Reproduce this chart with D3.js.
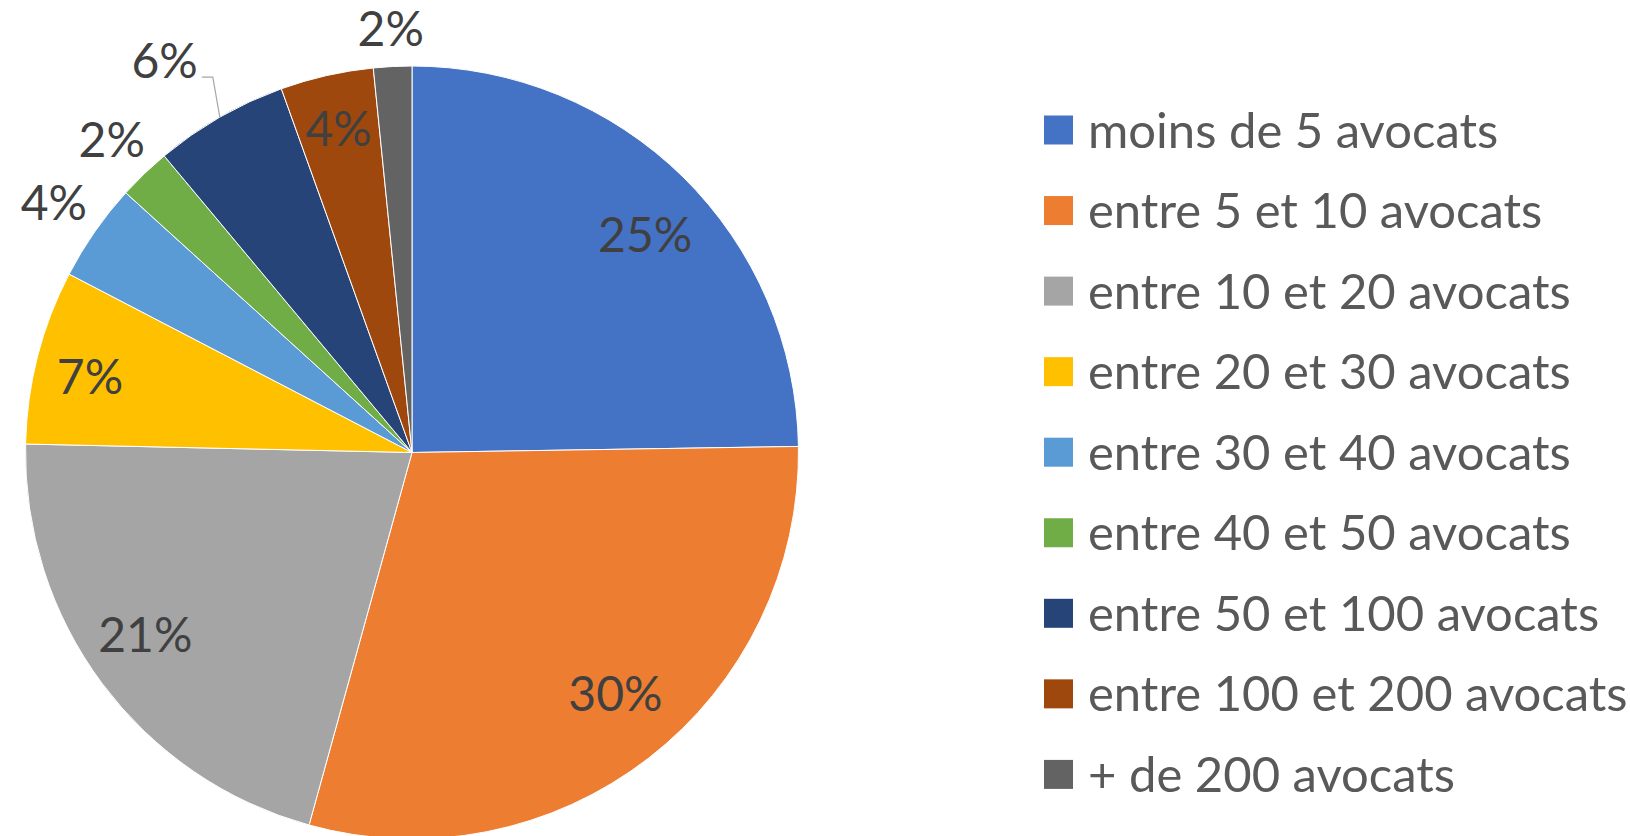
<!DOCTYPE html>
<html><head><meta charset="utf-8">
<script src="https://cdn.jsdelivr.net/npm/d3@7"></script>
<style>body{margin:0;background:#fff}svg{display:block}</style></head>
<body>
<svg id="c" width="1630" height="836"></svg>
<script>
const categories = ["moins de 5 avocats","entre 5 et 10 avocats","entre 10 et 20 avocats","entre 20 et 30 avocats","entre 30 et 40 avocats","entre 40 et 50 avocats","entre 50 et 100 avocats","entre 100 et 200 avocats","+ de 200 avocats"];
const values = [24.8, 29.6, 21.1, 7.3, 4.1, 2.2, 5.6, 3.9, 1.6];
const colors = ["#4472C4","#ED7D31","#A5A5A5","#FFC000","#5B9BD5","#70AD47","#264478","#9E480E","#636363"];
const outsideLabels = ["entre 30 et 40 avocats","entre 40 et 50 avocats","entre 50 et 100 avocats","+ de 200 avocats"];
const leaderLabels = ["entre 50 et 100 avocats"];

const FONT = "Lato, 'Open Sans', sans-serif";
const cx = 412, cy = 452.5, R = 386.5;
const svg = d3.select("#c");
const total = d3.sum(values);
const data = categories.map((c,i)=>({c, v:values[i], col:colors[i]}));
const pie = d3.pie().sort(null).value(d=>d.v);
const arcs = pie(data);
const arc = d3.arc().innerRadius(0).outerRadius(R);
const fmt = d3.format(".0%");
const polar = (a, r) => [Math.sin(a)*r, -Math.cos(a)*r];

const g = svg.append("g").attr("transform",`translate(${cx},${cy})`);
g.selectAll("path.s").data(arcs).join("path").attr("class","s")
  .attr("d", arc).attr("fill", d=>d.data.col)
  .attr("stroke","#fff").attr("stroke-width",1);

const labelSize = 48;
arcs.forEach(d => {
  const mid = (d.startAngle + d.endAngle)/2;
  const txt = fmt(d.value/total);
  const t = g.append("text").text(txt)
    .attr("font-family", FONT).attr("font-size", labelSize)
    .attr("fill","#404040").attr("dy","0.36em").attr("text-anchor","middle");
  if (leaderLabels.includes(d.data.c)) {
    const e = polar(mid, R);
    const elbow = [e[0]-7, e[1]-40];
    g.append("path").attr("d", d3.line()([e, elbow, [elbow[0]-11, elbow[1]]]))
      .attr("fill","none").attr("stroke","#A6A6A6").attr("stroke-width",1.2);
    t.attr("text-anchor","end").attr("dy",null)
      .attr("x", elbow[0]-15).attr("y", elbow[1]+1);
  } else if (outsideLabels.includes(d.data.c)) {
    const hw = t.node().getComputedTextLength()/2, hh = 17;
    const dist = R + 21 + Math.sqrt((hw*Math.sin(mid))**2 + (hh*Math.cos(mid))**2);
    const p = polar(mid, dist);
    t.attr("x", p[0]).attr("y", p[1]);
  } else {
    const small = (d.endAngle - d.startAngle) < 0.3;
    t.attr("x", Math.sin(mid)*R*0.86)
     .attr("y", -Math.cos(mid)*R*(small ? 0.86 : 0.79));
  }
});

const lg = svg.append("g");
const rowY = d3.scalePoint().domain(categories).range([130, 774.4]);
const rows = lg.selectAll("g").data(data).join("g")
  .attr("transform", d=>`translate(1044,${rowY(d.c)})`);
rows.append("rect").attr("x",0).attr("y",-14.5).attr("width",29).attr("height",29)
  .attr("fill", d=>d.col);
rows.append("text").attr("x",44).attr("dy","0.36em")
  .attr("font-family", FONT).attr("font-size", 49).attr("fill","#595959")
  .text(d=>d.c);
</script>
</body></html>
